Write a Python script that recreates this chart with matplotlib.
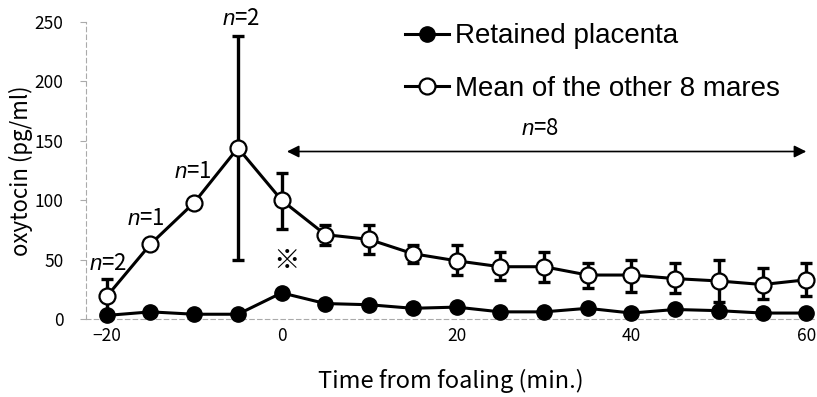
import matplotlib
matplotlib.use("Agg")
import matplotlib.pyplot as plt

plt.rcParams['font.family'] = ['Noto Sans CJK JP', 'DejaVu Sans']
plt.rcParams['mathtext.fontset'] = 'custom'
plt.rcParams['mathtext.it'] = 'Liberation Sans:italic'
plt.rcParams['mathtext.rm'] = 'Liberation Sans'

# Data
time = [-20, -15, -10, -5, 0, 5, 10, 15, 20, 25, 30, 35, 40, 45, 50, 55, 60]
retained = [3, 6, 4, 4, 22, 13, 12, 9, 10, 6, 6, 9, 5, 8, 7, 5, 5]
others = [19, 63, 98, 144, 100, 71, 67, 55, 49, 44, 44, 37, 37, 34, 32, 29, 33]
others_hi = [34, 63, 98, 238, 123, 79, 79, 62, 62, 56, 56, 47, 50, 47, 50, 43, 47]
others_lo = [4, 63, 98, 50, 76, 62, 55, 47, 37, 33, 31, 26, 23, 22, 14, 17, 19]

err_lo = [m - l for m, l in zip(others, others_lo)]
err_hi = [h - m for m, h in zip(others, others_hi)]

fig = plt.figure(figsize=(8.17, 3.97), dpi=100)
ax = fig.add_axes([0.105, 0.1965, 0.8926, 0.748])

ax.errorbar(time, others, yerr=[err_lo, err_hi], fmt='none', ecolor='black',
            elinewidth=2.4, capsize=4.5, capthick=2.4, zorder=2)
ax.plot(time, retained, color='black', lw=2.2, marker='o', ms=11,
        mfc='black', mec='black', label='Retained placenta', zorder=3,
        clip_on=False)
ax.plot(time, others, color='black', lw=2.2, marker='o', ms=11.5,
        mfc='white', mec='black', mew=1.6, label='Mean of the other 8 mares',
        zorder=4, clip_on=False)

# n annotations
ax.text(-19.9, 47, r'$n$=2', ha='center', va='center', fontsize=16)
ax.text(-15.5, 85, r'$n$=1', ha='center', va='center', fontsize=16)
ax.text(-10.2, 124, r'$n$=1', ha='center', va='center', fontsize=16)
ax.text(-4.6, 253, r'$n$=2', ha='center', va='center', fontsize=16)
ax.text(0.5, 48, '※', ha='center', va='center', fontsize=19)
ax.text(29.5, 160, r'$n$=8', ha='center', va='center', fontsize=16)
ax.annotate('', xy=(0.6, 141), xytext=(60, 141),
            arrowprops=dict(arrowstyle='<|-|>', color='black', lw=1.2,
                            mutation_scale=18, shrinkA=0, shrinkB=0))

ax.set_xlim(-22.4, 61)
ax.set_ylim(0, 250)
ax.set_xticks([-20, 0, 20, 40, 60])
ax.set_xticklabels(['\u221220', '0', '20', '40', '60'])
ax.set_yticks([0, 50, 100, 150, 200, 250])
ax.tick_params(axis='both', labelsize=12.5, length=4, color='#aaaaaa')
ax.tick_params(axis='y', pad=12)
ax.tick_params(axis='x', length=0, pad=6)
ax.set_xlabel('Time from foaling (min.)', fontsize=17, labelpad=17)
ax.set_ylabel('oxytocin (pg/ml)', fontsize=16)
ax.yaxis.set_label_coords(-0.073, 0.5)

for side in ['top', 'right']:
    ax.spines[side].set_visible(False)
for side in ['left', 'bottom']:
    ax.spines[side].set_linestyle((0, (4, 3)))
    ax.spines[side].set_color('#aaaaaa')
    ax.spines[side].set_linewidth(0.8)

leg = ax.legend(loc='upper left', bbox_to_anchor=(0.403, 1.08), frameon=False,
                handlelength=1.6, handletextpad=0.2, labelspacing=0.95,
                prop={'family': 'Liberation Sans', 'size': 20})

fig.savefig('out.png', dpi=100)
